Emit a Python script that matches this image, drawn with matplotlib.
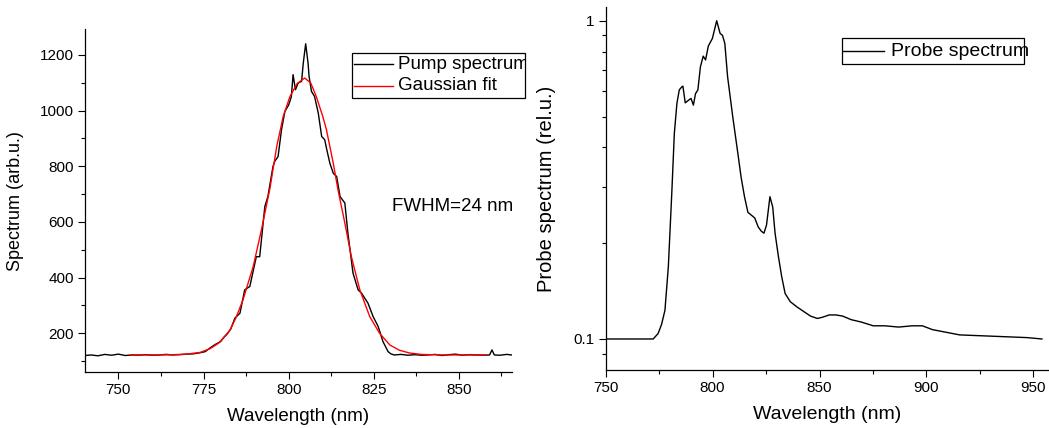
import matplotlib
matplotlib.use("Agg")
import matplotlib.pyplot as plt
from matplotlib.lines import Line2D
from matplotlib.patches import Rectangle
from matplotlib.ticker import MultipleLocator, FixedLocator, NullFormatter, FuncFormatter
from matplotlib.transforms import Bbox

plt.rcParams['font.family'] = ['Liberation Sans', 'DejaVu Sans']

# pump spectrum (nm, arb.u.)
pump_wl = [740.2, 742, 744, 746, 748, 750, 752, 754, 756, 758, 760, 762, 764, 766, 768, 770,
           772, 774, 775.5, 777, 778.5, 780, 781, 782, 783, 784.2, 785.7, 787.1, 788.6, 790.5,
           791.5, 793.0, 793.9, 794.9, 795.4, 795.9, 796.9, 797.9, 798.9, 800, 800.8, 801.3,
           802.0, 802.8, 803.8, 804.3, 805.0, 805.7, 806.0, 806.7, 807.6, 808.7, 809.7, 810.6,
           811.1, 812.1, 813.1, 814.1, 815.1, 816.5, 817.4, 818.9, 820.4, 821.4, 823.3, 824.8,
           826.3, 827.7, 829.2, 830, 831, 833, 835, 837, 839, 841, 843, 845, 847, 849, 851,
           853, 855, 857, 859, 859.7, 860.4, 862, 864, 865.5]
pump_val = [120, 122, 119, 124, 121, 125, 120, 122, 121, 123, 121, 122, 124, 122, 123, 125,
            126, 130, 134, 148, 160, 170, 185, 198, 215, 254, 272, 356, 368, 475,
            475, 655, 691, 763, 799, 817, 835, 931, 997, 1020, 1050, 1129,
            1075, 1099, 1105, 1171, 1240, 1171, 1123, 1069, 1051, 991, 907, 895,
            865, 811, 775, 763, 691, 668, 560, 416, 356, 344, 308, 260,
            224, 170, 134, 126, 122, 124, 121, 123, 121, 122, 124, 120, 123, 125, 121,
            123, 122, 121, 122, 140, 122, 121, 124, 122]

# gaussian fit
fit_wl = [753.5, 760, 765, 770, 774, 777, 779.5, 782.7, 784.5, 786.6, 789.6, 792, 794.5,
          796.5, 798.4, 800.4, 802.5, 804.7, 806.5, 808.1, 810, 811.1, 813.1, 814.5, 816.5,
          818.4, 820.9, 823.8, 826.7, 829.7, 832.5, 835.5, 839, 845, 852, 858]
fit_val = [122, 122, 122.5, 125, 131, 145, 165, 210, 255, 320, 440, 571, 720,
           871, 979, 1051, 1097, 1117, 1099, 1051, 980, 931, 811, 715, 596,
           476, 356, 260, 200, 158, 139, 129, 124, 122, 122, 122]

# probe spectrum (nm, rel.u.)
probe_wl = [750, 760, 768.5, 772.2, 774.5, 776.1, 777.7, 779.3, 780.9, 782.1, 783.3, 784.4,
            785.6, 786.1, 787.2, 788.8, 789.9, 791.0, 792.0, 793.1, 794.3, 795.6, 796.7,
            798.0, 799.9, 801.9, 803.5, 804.6, 805.7, 807.0, 809.4, 811.8, 813.3, 814.9,
            816.5, 818.1, 819.7, 821.3, 822.8, 824.0, 825.2, 826.8, 828.1, 829.2, 830.8,
            832.3, 833.9, 836.3, 839.5, 842.6, 845.8, 849.0, 851.3, 854.5, 857.7, 860.8,
            864.8, 869.6, 875.1, 880.6, 887.0, 893.3, 898.1, 902.8, 909.1, 915.5, 931.3,
            947.1, 954.0]
probe_val = [0.1, 0.1, 0.1, 0.1, 0.104, 0.111, 0.123, 0.169, 0.287, 0.443, 0.55, 0.606,
             0.62, 0.623, 0.552, 0.563, 0.57, 0.543, 0.59, 0.606, 0.717, 0.774, 0.753,
             0.833, 0.88, 1.0, 0.912, 0.90, 0.849, 0.667, 0.5, 0.383, 0.323, 0.28,
             0.25, 0.245, 0.24, 0.225, 0.218, 0.215, 0.228, 0.28, 0.26, 0.215, 0.181,
             0.157, 0.139, 0.131, 0.126, 0.122, 0.118, 0.116, 0.117, 0.119, 0.119, 0.118,
             0.115, 0.113, 0.11, 0.11, 0.109, 0.11, 0.11, 0.107, 0.105, 0.103, 0.102,
             0.101, 0.1]

W, H = 1049, 428


def fx(x):
    return x / W


def fy(y):
    return 1 - y / H


def style_axes(ax):
    for s in ['top', 'right']:
        ax.spines[s].set_visible(False)
    for s in ['left', 'bottom']:
        ax.spines[s].set_linewidth(0.9)
    ax.tick_params(which='major', direction='out', length=5, width=0.8, labelsize=11, pad=3)
    ax.tick_params(which='minor', direction='out', length=3, width=0.8)


def manual_legend(fig, box, entries, x_line, x_text, size, clip_x=None):
    x0, y0, x1, y1 = box
    fig.add_artist(Rectangle((fx(x0), fy(y1)), fx(x1) - fx(x0), fy(y0) - fy(y1),
                             transform=fig.transFigure, fill=False, edgecolor='black', lw=0.9))
    for (label, color, yrow) in entries:
        fig.add_artist(Line2D([fx(x_line[0]), fx(x_line[1])], [fy(yrow), fy(yrow)],
                              transform=fig.transFigure, color=color, lw=1.0))
        t = fig.text(fx(x_text), fy(yrow), label, fontsize=size, va='center', ha='left')
        if clip_x is not None:
            t.set_clip_box(Bbox.from_extents(0, 0, clip_x, H))
            t.set_clip_on(True)


fig = plt.figure(figsize=(10.49, 4.28), dpi=100)

# left panel
ax1 = fig.add_axes([85 / W, 1 - 372.3 / H, 426.7 / W, 343 / H])
ax1.plot(pump_wl, pump_val, color='black', lw=1.0)
ax1.plot(fit_wl, fit_val, color='#ff0000', lw=1.0)
ax1.set_xlim(740.2, 865.5)
ax1.set_ylim(59.7, 1292)
ax1.xaxis.set_major_locator(MultipleLocator(25))
ax1.xaxis.set_minor_locator(MultipleLocator(12.5))
ax1.yaxis.set_major_locator(MultipleLocator(200))
ax1.yaxis.set_minor_locator(MultipleLocator(100))
style_axes(ax1)
ax1.set_xlabel('Wavelength (nm)', fontsize=13.5)
ax1.set_ylabel('Spectrum (arb.u.)', fontsize=13)
ax1.xaxis.set_label_coords(0.5, -0.103)
ax1.yaxis.set_label_coords(-0.143, 0.5)
ax1.text(830.4, 655, 'FWHM=24 nm', fontsize=13.5, va='center', ha='left')

# right panel
ax2 = fig.add_axes([605.7 / W, 1 - 370 / H, 443.3 / W, 362.7 / H])
ax2.plot(probe_wl, probe_val, color='black', lw=1.0)
ax2.set_yscale('log')
ax2.set_xlim(750, 957.3)
ax2.set_ylim(0.0799, 1.102)
ax2.xaxis.set_major_locator(MultipleLocator(50))
ax2.xaxis.set_minor_locator(MultipleLocator(25))
ax2.yaxis.set_major_locator(FixedLocator([0.1, 1]))
ax2.yaxis.set_major_formatter(FuncFormatter(lambda v, p: '1' if v >= 1 else '0.1'))
ax2.yaxis.set_minor_locator(FixedLocator([0.09, 0.2, 0.3, 0.4, 0.5, 0.6, 0.7, 0.8, 0.9]))
ax2.yaxis.set_minor_formatter(NullFormatter())
style_axes(ax2)
ax2.set_xlabel('Wavelength (nm)', fontsize=14)
ax2.set_ylabel('Probe spectrum (rel.u.)', fontsize=14.5)
ax2.xaxis.set_label_coords(0.5, -0.098)
ax2.yaxis.set_label_coords(-0.112, 0.5)

# legends
manual_legend(fig, (351.7, 52.7, 525, 98.3),
              [('Pump spectrum', 'black', 64.3), ('Gaussian fit', '#ff0000', 86)],
              (354, 393.3), 398.3, 13.5, clip_x=526)
manual_legend(fig, (841.7, 38.3, 1024, 64.3),
              [('Probe spectrum', 'black', 51)],
              (843, 884), 890.7, 14)

fig.savefig('out.png', dpi=100)
